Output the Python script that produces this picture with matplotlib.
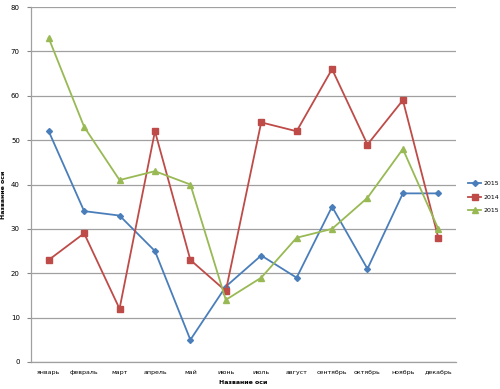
import matplotlib
matplotlib.use("Agg")
import matplotlib.pyplot as plt

months = ["январь", "февраль", "март", "апрель", "май", "июнь", "июль",
          "август", "сентябрь", "октябрь", "ноябрь", "декабрь"]
s_blue = [52, 34, 33, 25, 5, 17, 24, 19, 35, 21, 38, 38]
s_red = [23, 29, 12, 52, 23, 16, 54, 52, 66, 49, 59, 28]
s_green = [73, 53, 41, 43, 40, 14, 19, 28, 30, 37, 48, 30]
labels = ["2015", "2014", "2015"]
yticks = [0, 10, 20, 30, 40, 50, 60, 70, 80]

fig = plt.figure(figsize=(5.0, 3.89), dpi=100)
ax = fig.add_axes([31/500, 1 - 362/389, (456-31)/500, (362-7)/389])

x = list(range(len(months)))
ax.plot(x, s_blue, color="#4a7ebb", marker="D", markersize=3, lw=1.3, label=labels[0], zorder=3)
ax.plot(x, s_red, color="#be4b48", marker="s", markersize=4.5, lw=1.3, label=labels[1], zorder=3)
ax.plot(x, s_green, color="#98b954", marker="^", markersize=4.5, lw=1.3, label=labels[2], zorder=3)

ax.set_xlim(-0.5, 11.5)
ax.set_ylim(0, 80)
ax.set_yticks(yticks)
ax.set_xticks(x)
ax.set_xticklabels(months, fontsize=4.5)
ax.tick_params(axis="y", labelsize=5, length=3, color="#888888", pad=5)
ax.tick_params(axis="x", length=0, pad=6)
ax.yaxis.grid(True, color="#a0a0a0", lw=0.9)
ax.set_axisbelow(True)
for s in ["top", "right"]:
    ax.spines[s].set_visible(False)
for s in ["left", "bottom"]:
    ax.spines[s].set_color("#a0a0a0")
    ax.spines[s].set_linewidth(0.9)

ax.set_xlabel("Название оси", fontsize=4.5, fontweight="bold", labelpad=3)
ax.set_ylabel("Название оси", fontsize=4.5, fontweight="bold")
ax.yaxis.set_label_coords(-0.058, 0.47)

leg = fig.legend(loc="center left", bbox_to_anchor=(462/500, 1 - 197/389),
                 frameon=False, fontsize=4.5, handlelength=2.2, labelspacing=1.3,
                 handletextpad=0.3)
fig.savefig("out.png", dpi=100)
